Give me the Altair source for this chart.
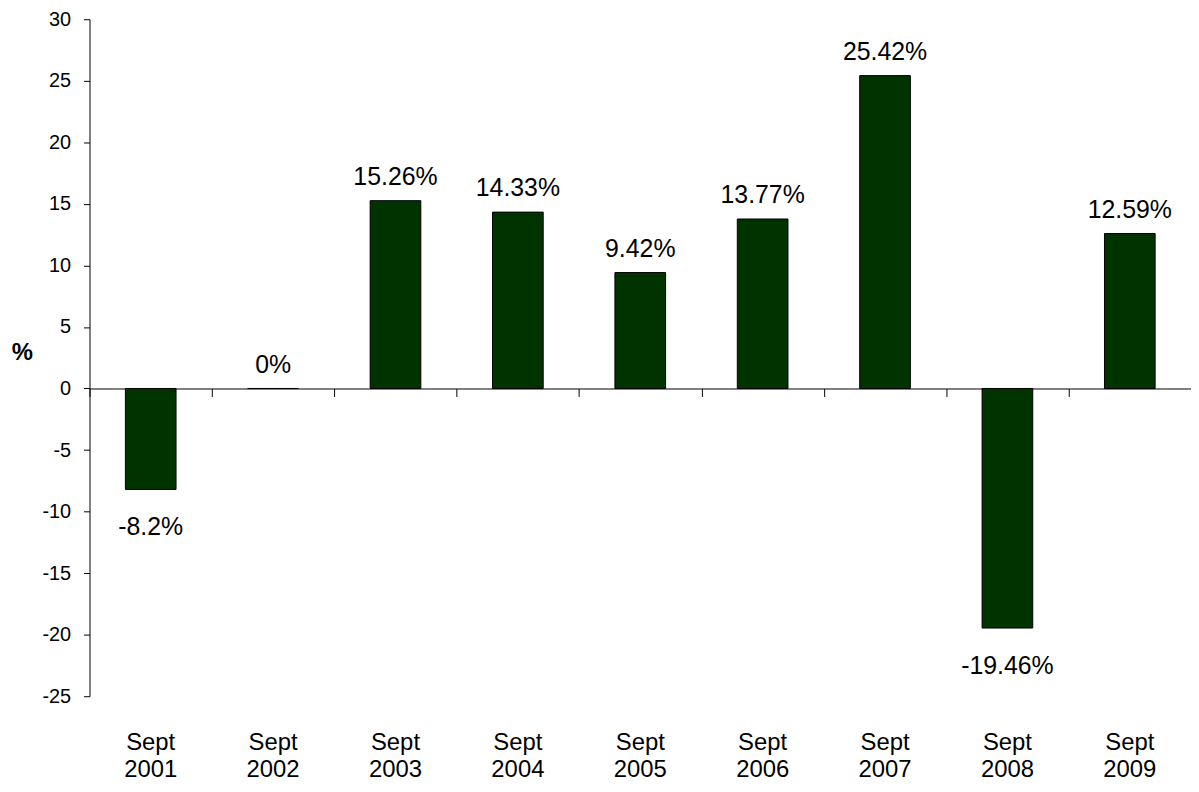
import altair as alt
import pandas as pd

categories = ["Sept 2001", "Sept 2002", "Sept 2003", "Sept 2004", "Sept 2005",
              "Sept 2006", "Sept 2007", "Sept 2008", "Sept 2009"]
values = [-8.2, 0, 15.26, 14.33, 9.42, 13.77, 25.42, -19.46, 12.59]
labels = ["-8.2%", "0%", "15.26%", "14.33%", "9.42%", "13.77%", "25.42%", "-19.46%", "12.59%"]
y_ticks = [-25, -20, -15, -10, -5, 0, 5, 10, 15, 20, 25, 30]

df = pd.DataFrame({"cat": categories, "val": values, "lab": labels})

W, H = 1108, 681
ymin, ymax = -25, 30
zero_offset = -(H - (ymax - 0) / (ymax - ymin) * H)

FONT = "Liberation Sans"

xscale = alt.Scale(paddingInner=0, paddingOuter=0)
yscale = alt.Scale(domain=[ymin, ymax], nice=False, zero=False)

y_axis = alt.Axis(values=y_ticks, grid=False, title="%", titleAngle=0,
                  titleFont=FONT, titleFontSize=24, titleFontWeight="bold",
                  titleColor="#000000", titleX=-68, titleY=335,
                  titleAlign="center", titleBaseline="middle",
                  labelExpr="datum.value",
                  labelFont=FONT, labelFontSize=20, labelColor="#000000",
                  labelPadding=13, tickSize=6, tickColor="#000000",
                  domainColor="#000000", tickWidth=1, domainWidth=1)

base = alt.Chart(df)

bars = base.mark_bar(color="#003300", stroke="#000000", strokeWidth=1,
                     width=alt.RelativeBandSize(0.414)).encode(
    x=alt.X("cat:N", sort=None, scale=xscale,
            axis=alt.Axis(title=None, domain=False, ticks=False, labelAngle=0,
                          labelExpr="split(datum.value, ' ')",
                          labelFontSize=24, labelFont=FONT, labelColor="#000000",
                          labelLineHeight=27, labelPadding=35, labelBaseline="top")),
    y=alt.Y("val:Q", scale=yscale, axis=y_axis),
)

zero_axis = base.mark_bar(opacity=0).encode(
    x=alt.X("cat:N", sort=None, scale=xscale,
            axis=alt.Axis(orient="bottom", offset=zero_offset, labels=False, title=None,
                          tickBand="extent", tickSize=8, tickColor="#000000",
                          domainColor="#000000", domainWidth=1, tickWidth=1)),
    y=alt.Y("val:Q", scale=yscale, axis=y_axis),
)

pos_text = base.transform_filter("datum.val >= 0").mark_text(
    font=FONT, fontSize=25, color="#000000", dy=-24, baseline="middle").encode(
    x=alt.X("cat:N", sort=None, scale=xscale, axis=None),
    y=alt.Y("val:Q", scale=yscale, axis=y_axis),
    text="lab:N",
)

neg_text = base.transform_filter("datum.val < 0").mark_text(
    font=FONT, fontSize=25, color="#000000", dy=38, baseline="middle").encode(
    x=alt.X("cat:N", sort=None, scale=xscale, axis=None),
    y=alt.Y("val:Q", scale=yscale, axis=y_axis),
    text="lab:N",
)

chart = alt.layer(bars, zero_axis, pos_text, neg_text).resolve_axis(
    x="independent"
).properties(
    width=W, height=H,
    padding={"left": 82, "top": 9, "right": 0, "bottom": 86},
    autosize="none",
).configure(background="#ffffff").configure_view(
    strokeWidth=0, stroke="transparent"
).configure_axis(
    domainColor="#000000", tickColor="#000000"
).configure_axisY(labelFontSize=20, labelFont=FONT, labelColor="#000000")

chart.save("out.html", embed_options={"renderer": "svg", "actions": False})
